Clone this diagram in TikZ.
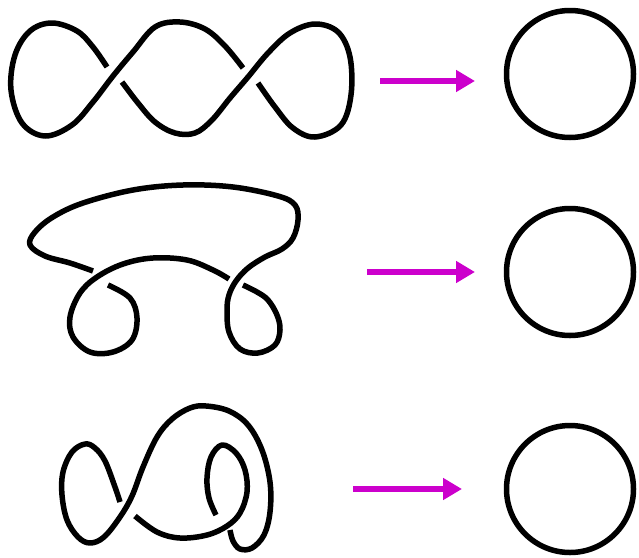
\documentclass[tikz,border=0pt]{standalone}
\usetikzlibrary{arrows.meta}
\definecolor{arrowmag}{HTML}{CC00CC}
\begin{document}
\begin{tikzpicture}[x=1pt,y=-1pt,
  knot/.style={line width=5.5pt, line cap=butt, line join=round, black},
  ring/.style={line width=5.5pt, black},
  movearrow/.style={line width=6.5pt, arrowmag, -{Triangle[length=19pt,width=21pt]}}]
\useasboundingbox (0,0) rectangle (639,557);
% ---------- knot 1 ----------
\draw[knot] plot[smooth, tension=0.6] coordinates {(122,82) (138,103) (155,122) (175,133) (195,133) (212,120) (230,98) (248,77) (268,53) (290,33) (315,24) (338,32) (350,57) (351,95) (341,125) (315,137) (293,128) (275,107) (258,83)};
\draw[knot] plot[smooth, tension=0.6] coordinates {(243,68) (225,46) (205,29) (180,22) (155,27) (133,52) (113,76) (93,102) (72,125) (45,136) (22,123) (11,90) (15,55) (30,31) (52,23) (77,31) (93,47) (107,67)};
% ---------- knot 2 ----------
\draw[knot] plot[smooth, tension=0.6] coordinates {(243,285) (257,292) (268,300) (277,315) (280,330) (275,345) (258,353) (240,349) (229,332) (227,310) (229,295) (236,281) (248,268) (265,257) (282,249) (293,238) (298,220) (295,205) (278,196) (233,187) (183,185) (133,190) (83,203) (53,217) (35,232) (30,245) (45,256) (70,263) (93,271)};
\draw[knot] plot[smooth, tension=0.6] coordinates {(229,279) (213,270) (187,260) (153,258) (123,264) (97,277) (80,293) (70,317) (73,337) (90,352) (113,352) (132,340) (137,318) (130,298) (108,285)};
% ---------- knot 3 ----------
\draw[knot] plot[smooth, tension=0.6] coordinates {(120,502) (115,487) (105,461) (95,448) (85,444) (72,452) (63,472) (62,495) (67,520) (78,537) (90,543) (104,537) (120,517) (132,496) (143,467) (157,437) (172,419) (190,408) (206,406) (229,411) (248,425) (262,450) (270,482) (270,512) (264,535) (252,548) (240,549) (233,541) (230,530)};
\draw[knot] plot[smooth, tension=0.6] coordinates {(216,515) (209,498) (207,478) (211,457) (222,445) (236,453) (245,470) (247,492) (240,513) (227,526) (207,535) (180,538) (157,532) (135,516)};
% ---------- unknots ----------
\node[ring, circle, minimum size=127pt, inner sep=0pt, draw] (c1) at (570,74) {};
\node[ring, circle, minimum size=127pt, inner sep=0pt, draw] (c2) at (570,272) {};
\node[ring, circle, minimum size=127pt, inner sep=0pt, draw] (c3) at (570,489) {};
% ---------- arrows ----------
\coordinate (a1s) at (380,81);  \coordinate (a1e) at (475,81);
\coordinate (a2s) at (367,272); \coordinate (a2e) at (475,272);
\coordinate (a3s) at (353,489); \coordinate (a3e) at (462,489);
\draw[movearrow] (a1s) -- (a1e);
\draw[movearrow] (a2s) -- (a2e);
\draw[movearrow] (a3s) -- (a3e);
\end{tikzpicture}
\end{document}
